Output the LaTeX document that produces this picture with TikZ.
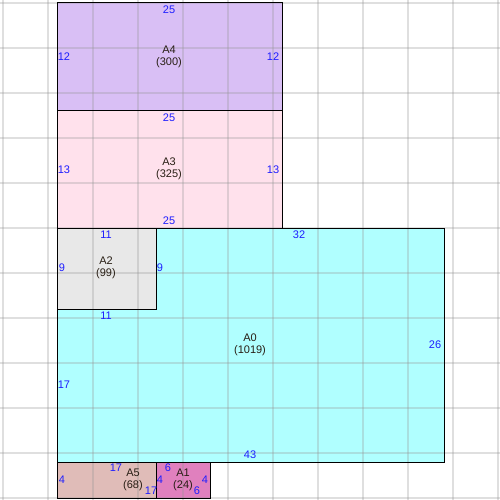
\documentclass[tikz,border=0pt]{standalone}
\usepackage{fontspec}
\setmainfont{Liberation Sans}
\definecolor{cA4}{RGB}{217,191,245}
\definecolor{cA3}{RGB}{255,225,236}
\definecolor{cA2}{RGB}{232,232,232}
\definecolor{cA0}{RGB}{176,255,255}
\definecolor{cA5}{RGB}{224,188,184}
\definecolor{cA1}{RGB}{224,128,190}
\definecolor{gridc}{RGB}{150,150,150}
\definecolor{edgec}{RGB}{30,30,255}
\definecolor{namec}{RGB}{40,30,20}
\tikzset{
  region/.style={draw=black,line width=1pt},
  gridline/.style={draw=gridc,line width=1.2pt,opacity=0.3},
  elabel/.style={text=edgec,font=\fontsize{11}{12}\selectfont,inner sep=0pt},
  rlabel/.style={text=namec,font=\fontsize{11}{12.5}\selectfont,align=center,inner sep=0pt}
}
\begin{document}
\begin{tikzpicture}[x=1pt,y=-1pt]
\useasboundingbox (0,0) rectangle (500,500);
\fill[white] (0,0) rectangle (500,500);
% fills
\fill[cA4] (57,3) rectangle (282,111);
\fill[cA3] (57,111) rectangle (282,228);
\fill[cA0] (156,228) -- (444,228) -- (444,462) -- (57,462) -- (57,309) -- (156,309) -- cycle;
\fill[cA2] (57,228) rectangle (156,309);
\fill[cA5] (57,462) rectangle (210,498);
\fill[cA1] (156,462) rectangle (210,498);
% grid
\foreach \k in {0,...,11}{
  \draw[gridline] (3+45*\k,0) -- (3+45*\k,500);
  \draw[gridline] (0,3+45*\k) -- (500,3+45*\k);
}
% outlines
\draw[region] (57,3) rectangle (282,111);
\draw[region] (57,111) rectangle (282,228);
\draw[region] (156,228) -- (444,228) -- (444,462) -- (57,462) -- (57,309) -- (156,309) -- cycle;
\draw[region] (57,228) rectangle (156,309);
\draw[region] (57,462) rectangle (210,498);
\draw[region] (156,462) rectangle (210,498);
% region names
\node[rlabel] (nA4) at (169,57) {A4\\(300)};
\node[rlabel] (nA3) at (169,169) {A3\\(325)};
\node[rlabel] (nA2) at (106,268) {A2\\(99)};
\node[rlabel] (nA0) at (250,345) {A0\\(1019)};
\node[rlabel] (nA5) at (133,480) {A5\\(68)};
\node[rlabel] (nA1) at (183,480) {A1\\(24)};
% edge labels A4
\node[elabel] (a4t) at (169,10) {25};
\node[elabel] (a4l) at (64,57) {12};
\node[elabel] (a4r) at (273,57) {12};
% A3
\node[elabel] (a3t) at (169,118) {25};
\node[elabel] (a3l) at (64,170) {13};
\node[elabel] (a3r) at (273,170) {13};
\node[elabel] (a3b) at (169,221) {25};
% A2
\node[elabel] (a2t) at (106,235) {11};
\node[elabel] (a2l) at (62,268) {9};
% A0
\node[elabel] (a0t) at (299,235) {32};
\node[elabel] (a0r) at (435,345) {26};
\node[elabel] (a0b) at (250,455) {43};
\node[elabel] (a0l) at (64,385) {17};
\node[elabel] (a0i) at (160,268) {9};
\node[elabel] (a0j) at (106,316) {11};
% A5
\node[elabel] (a5l) at (62,480) {4};
\node[elabel] (a5t) at (116,468) {17};
\node[elabel] (a5b) at (151,491) {17};
% A1
\node[elabel] (a1t) at (168,468) {6};
\node[elabel] (a1l) at (160,480) {4};
\node[elabel] (a1r) at (205,480) {4};
\node[elabel] (a1b) at (197,491) {6};
\end{tikzpicture}
\end{document}
